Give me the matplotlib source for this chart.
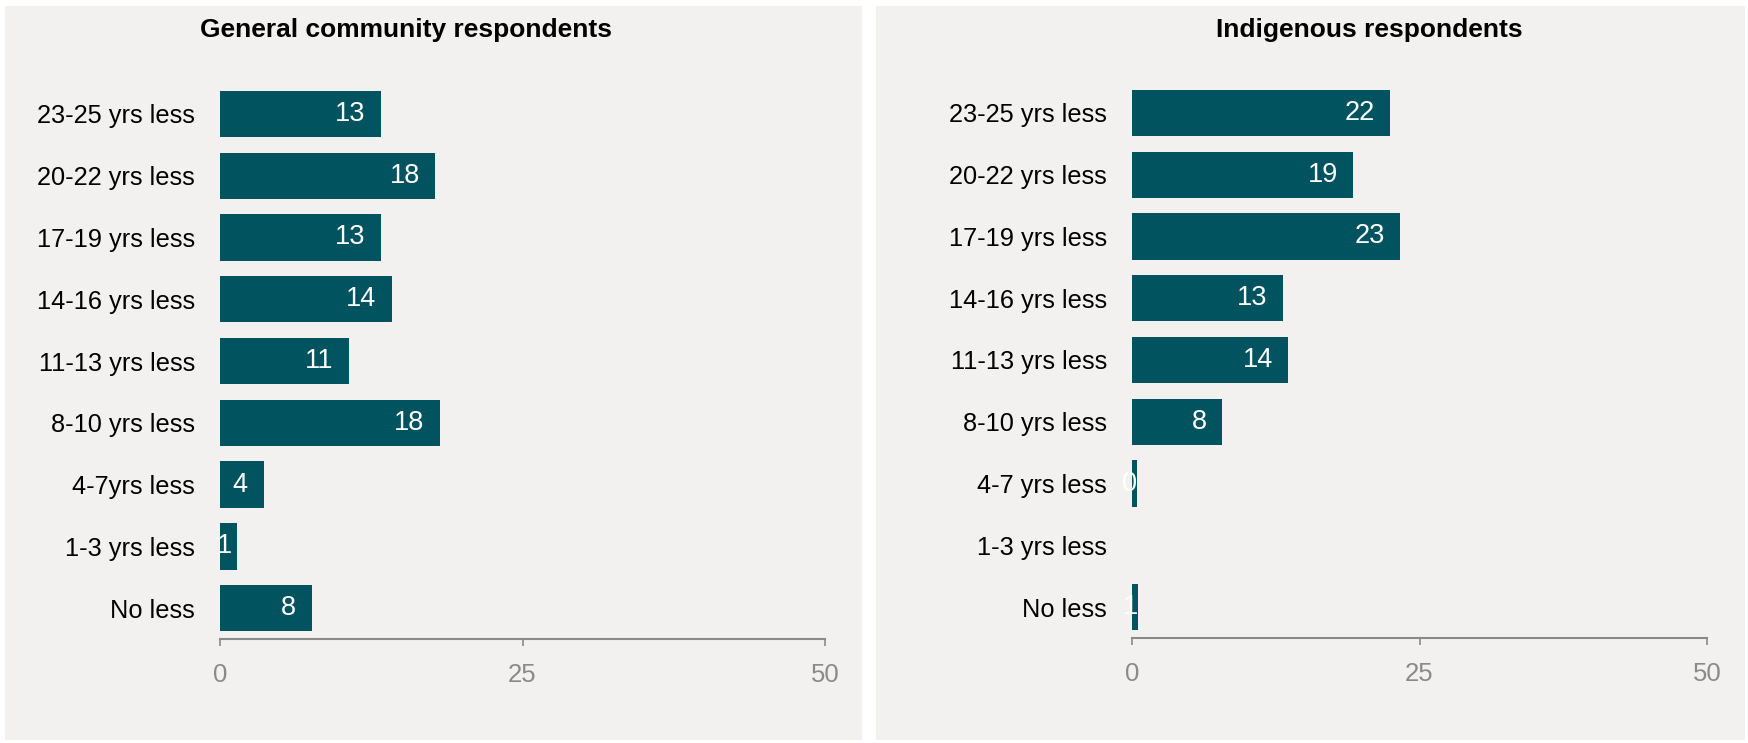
import matplotlib.pyplot as plt
from matplotlib.patches import Rectangle

plt.rcParams['font.family'] = ['Liberation Sans', 'DejaVu Sans']

cats_left = ["No less", "1-3 yrs less", "4-7yrs less", "8-10 yrs less", "11-13 yrs less",
             "14-16 yrs less", "17-19 yrs less", "20-22 yrs less", "23-25 yrs less"]
vals_left = [7.6, 1.4, 3.6, 18.2, 10.7, 14.2, 13.3, 17.8, 13.3]

cats_right = ["No less", "1-3 yrs less", "4-7 yrs less", "8-10 yrs less", "11-13 yrs less",
              "14-16 yrs less", "17-19 yrs less", "20-22 yrs less", "23-25 yrs less"]
vals_right = [0.55, 0, 0.4, 7.8, 13.6, 13.1, 23.3, 19.2, 22.4]

W, H = 1748, 743
bar_color = "#01535f"
panel_color = "#f2f1ef"
grey = "#8a8a8a"

fig = plt.figure(figsize=(W / 100, H / 100), dpi=100)
fig.patch.set_facecolor("white")

# panel backgrounds (pixel coords from top-left)
for x0, x1 in [(5, 862), (876, 1745)]:
    fig.patches.append(Rectangle((x0 / W, 1 - 740 / H), (x1 - x0) / W, (740 - 6) / H,
                                 transform=fig.transFigure, facecolor=panel_color,
                                 edgecolor="none", zorder=-5))


def panel(left, right, top, bottom, cats, vals, title, title_x):
    ax = fig.add_axes([left / W, 1 - bottom / H, (right - left) / W, (bottom - top) / H])
    ax.set_zorder(2)
    ax.set_facecolor("none")
    y = range(len(cats))
    ax.barh(y, vals, height=0.75, color=bar_color)
    for yi, v in zip(y, vals):
        if v <= 0:
            continue
        ax.text(max(v - 1.3, min(v, 1.0)), yi, "%.0f" % v, ha="right", va="center",
                color="white", fontsize=19.5)
    ax.set_xlim(0, 50)
    ax.set_ylim(-0.5, len(cats) - 0.5)
    ax.set_yticks(list(y))
    ax.set_yticklabels(cats, fontsize=18.3, color="black")
    ax.tick_params(axis="y", length=0, pad=18)
    ax.set_xticks([0, 25, 50])
    ax.tick_params(axis="x", colors=grey, labelsize=18.5, length=5, width=1.2, pad=12)
    for s in ["top", "right", "left"]:
        ax.spines[s].set_visible(False)
    ax.spines["bottom"].set_color(grey)
    ax.spines["bottom"].set_linewidth(1.5)
    fig.text(title_x / W, 1 - 30 / H, title, ha="center", va="center",
             fontsize=19, fontweight="bold", zorder=3)
    return ax


panel(220, 825, 83, 639, cats_left, vals_left, "General community respondents", 406)
panel(1132, 1707, 82, 638, cats_right, vals_right, "Indigenous respondents", 1369)

fig.savefig("out.png", dpi=100, facecolor="white")
